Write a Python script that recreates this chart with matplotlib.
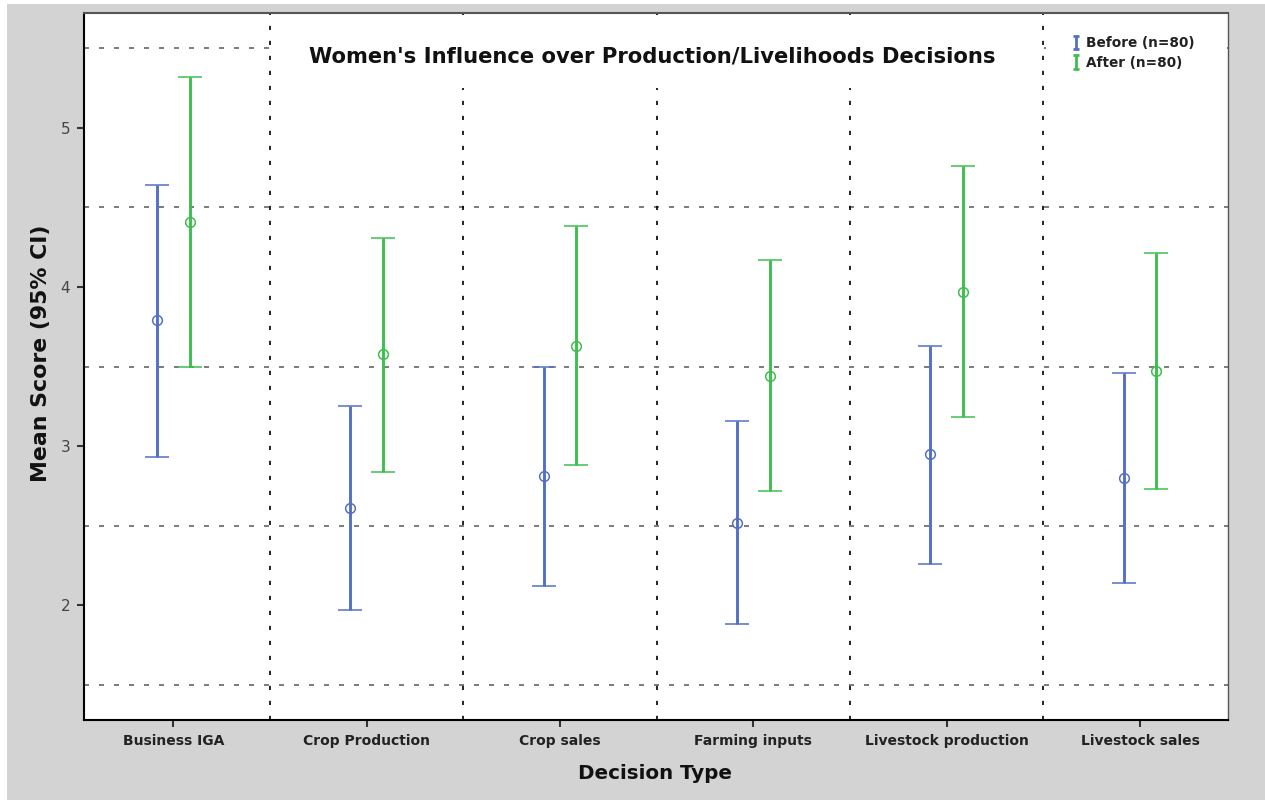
import numpy as np
import matplotlib
matplotlib.use("Agg")
import matplotlib.pyplot as plt
from matplotlib.patches import Rectangle

categories = ["Business IGA", "Crop Production", "Crop sales",
              "Farming inputs", "Livestock production", "Livestock sales"]
before_mean = [3.79, 2.61, 2.81, 2.52, 2.95, 2.80]
before_low = [2.93, 1.97, 2.12, 1.88, 2.26, 2.14]
before_high = [4.64, 3.25, 3.50, 3.16, 3.63, 3.46]
after_mean = [4.41, 3.58, 3.63, 3.44, 3.97, 3.47]
after_low = [3.50, 2.84, 2.88, 2.72, 3.18, 2.73]
after_high = [5.32, 4.31, 4.38, 4.17, 4.76, 4.21]
series_labels = ["Before (n=80)", "After (n=80)"]
ref_lines = [1.5, 2.5, 3.5, 4.5, 5.5]
y_ticks = [2, 3, 4, 5]

BLUE = "#5470c4"
GREEN = "#3dbf4f"

plt.rcParams['font.family'] = ['DejaVu Sans']

W, H = 1265, 800
fig = plt.figure(figsize=(W / 100, H / 100), dpi=100)
fig.patch.set_facecolor('white')
fig.patches.append(Rectangle((7 / W, 0), 1 - 7 / W, 1 - 4 / H, transform=fig.transFigure,
                             facecolor='#d3d3d3', edgecolor='none', zorder=-10))

ax = fig.add_axes([84 / W, 80 / H, (1228 - 84) / W, (720 - 12.7) / H])
ax.set_facecolor('white')

x = np.arange(len(categories))
off = 0.085

for yv in ref_lines:
    ax.axhline(yv, color='#666666', lw=1.2, dashes=(3, 6), zorder=1)
for xv in x[:-1] + 0.5:
    ax.axvline(xv, color='black', lw=1.2, dashes=(2.5, 6.5), zorder=1)

# white boxes behind title and legend (hide reference lines there)
ax.add_patch(Rectangle((0.1643, 0.8935), 0.667, 0.0891, transform=ax.transAxes,
                       facecolor='white', edgecolor='none', zorder=2))
ax.add_patch(Rectangle((0.841, 0.912), 0.158, 0.066, transform=ax.transAxes,
                       facecolor='white', edgecolor='none', zorder=2))

def draw(xpos, mean, low, high, color):
    mean = np.array(mean); low = np.array(low); high = np.array(high)
    ax.errorbar(xpos, mean, yerr=[mean - low, high - mean], fmt='o', ms=7,
                mfc='none', mec=color, mew=1.1, ecolor=color, elinewidth=2.1,
                capsize=8.6, capthick=2.1, zorder=3)

draw(x - off, before_mean, before_low, before_high, BLUE)
draw(x + off, after_mean, after_low, after_high, GREEN)

# legend handles (no markers)
h1 = ax.errorbar([np.nan], [np.nan], yerr=[[np.nan], [np.nan]], fmt='none', ecolor=BLUE,
                 elinewidth=2, capsize=2.5, capthick=2, label=series_labels[0])
h2 = ax.errorbar([np.nan], [np.nan], yerr=[[np.nan], [np.nan]], fmt='none', ecolor=GREEN,
                 elinewidth=2, capsize=2.5, capthick=2, label=series_labels[1])
leg = ax.legend(handles=[h1, h2], loc='upper left', bbox_to_anchor=(0.856, 0.98),
                frameon=False, handlelength=0.5, handletextpad=0.5, labelspacing=0.4,
                borderpad=0.2, prop={'size': 9.8, 'weight': 'bold'})
leg.set_zorder(4)
for t in leg.get_texts():
    t.set_color('#222222')

ax.set_xlim(-0.462, 5.455)
ax.set_ylim(1.28, 5.722)
ax.set_xticks(x)
ax.set_xticklabels(categories, fontsize=10, fontweight='bold', color='#222222')
ax.set_yticks(y_ticks)
ax.set_yticklabels([str(t) for t in y_ticks], fontsize=11, color='#444444')
ax.tick_params(axis='both', length=5, width=1.5, color='#333333', direction='out', pad=5)

for s in ['left', 'bottom']:
    ax.spines[s].set_color('black')
    ax.spines[s].set_linewidth(1.5)
ax.spines['top'].set_color('#555555')
ax.spines['top'].set_linewidth(1.5)
ax.spines['right'].set_color('#555555')
ax.spines['right'].set_linewidth(1.0)

ax.text(0.4965, 0.9385, "Women's Influence over Production/Livelihoods Decisions",
        transform=ax.transAxes, ha='center', va='center', fontsize=15.2, fontweight='bold',
        color='#111111', zorder=5)

ax.set_xlabel("Decision Type", fontsize=14.3, fontweight='bold', color='#111111')
ax.xaxis.set_label_coords(0.499, -0.062)
ax.set_ylabel("Mean Score (95% CI)", fontsize=15.8, fontweight='bold', color='#111111')
ax.yaxis.set_label_coords(-0.029, 0.519)

fig.savefig("out.png", dpi=100)
